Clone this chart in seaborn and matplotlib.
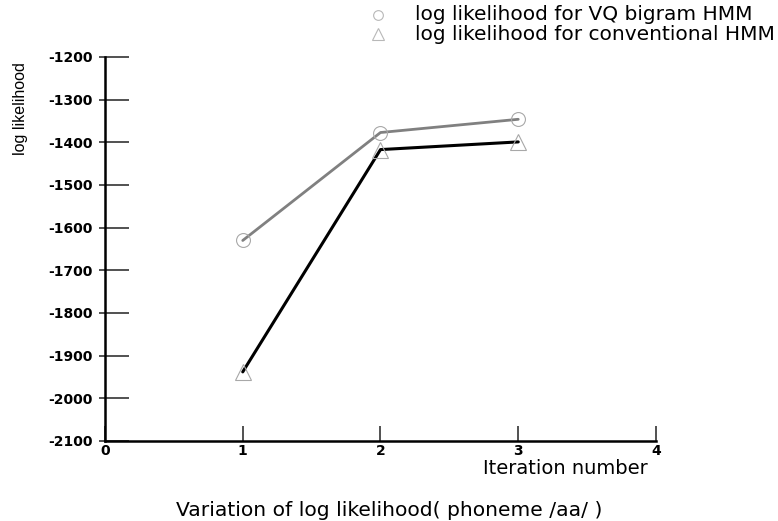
import matplotlib
matplotlib.use("Agg")
import matplotlib.pyplot as plt
import seaborn as sns
import pandas as pd

iterations = [1, 2, 3]
vq_bigram = [-1630, -1377, -1346]
conventional = [-1938, -1417, -1399]
x_ticks = [0, 1, 2, 3, 4]
y_ticks = [-2100, -2000, -1900, -1800, -1700, -1600, -1500, -1400, -1300, -1200]
labels = ["log likelihood for VQ bigram HMM", "log likelihood for conventional HMM"]

sns.set_style("white")
plt.rcParams['font.family'] = ['DejaVu Sans']
plt.rcParams['axes.unicode_minus'] = False
plt.rcParams['text.color'] = 'black'
plt.rcParams['xtick.color'] = 'black'
plt.rcParams['ytick.color'] = 'black'

fig = plt.figure(figsize=(7.78, 5.21), dpi=100)
ax = fig.add_axes([105/778, 1-441/521, (656-105)/778, (441-57)/521])

df1 = pd.DataFrame({"x": iterations, "y": vq_bigram})
df2 = pd.DataFrame({"x": iterations, "y": conventional})
sns.lineplot(data=df1, x="x", y="y", ax=ax, color="#808080", lw=2,
             marker="o", ms=10, mfc="none", mec="#a8a8a8", mew=0.8)
sns.lineplot(data=df2, x="x", y="y", ax=ax, color="black", lw=2.2,
             marker="^", ms=11, mfc="none", mec="#a8a8a8", mew=0.8)

ax.set_xlim(0, 4)
ax.set_ylim(-2100, -1200)
ax.set_xticks(x_ticks)
ax.set_yticks(y_ticks)
ax.set_yticks(y_ticks, minor=True)
ax.yaxis.remove_overlapping_locs = False
ax.set_xlabel("")
ax.set_ylabel("")
for s in ["top", "right"]:
    ax.spines[s].set_visible(False)
for s in ["left", "bottom"]:
    ax.spines[s].set_color("black")
    ax.spines[s].set_linewidth(1.8)
ax.tick_params(axis="y", which="major", direction="in", length=17, width=1.2,
               color="#333333", labelcolor="black", left=True, pad=9, labelsize=10)
ax.tick_params(axis="y", which="minor", direction="out", length=4, width=1.2,
               color="#333333", left=True, labelleft=False)
ax.tick_params(axis="x", direction="in", length=11, width=1.2, color="#333333",
               labelcolor="black", bottom=True, pad=2, labelsize=10)
for t in ax.get_xticklabels() + ax.get_yticklabels():
    t.set_fontweight("bold")

# legend
fig.text(415/778, 1-15/521, labels[0], fontsize=14.5, va="center", ha="left", color="black")
fig.text(415/778, 1-34/521, labels[1], fontsize=14.5, va="center", ha="left", color="black")
ax.plot([378/778], [1-15/521], transform=fig.transFigure, marker="o", ms=7,
        mfc="none", mec="#b8b8b8", mew=0.8, clip_on=False)
ax.plot([378/778], [1-34/521], transform=fig.transFigure, marker="^", ms=8,
        mfc="none", mec="#b8b8b8", mew=0.8, clip_on=False)

fig.text(21/778, 1-109/521, "log likelihood", rotation=90, fontsize=11.5,
         va="center", ha="center", family="Liberation Sans", color="black")
fig.text(565/778, 1-469/521, "Iteration number", fontsize=14, va="center",
         ha="center", color="black")
fig.text(389/778, 1-511/521, "Variation of log likelihood( phoneme /aa/ )",
         fontsize=14.6, va="center", ha="center", color="black")

fig.savefig("out.png", dpi=100)
